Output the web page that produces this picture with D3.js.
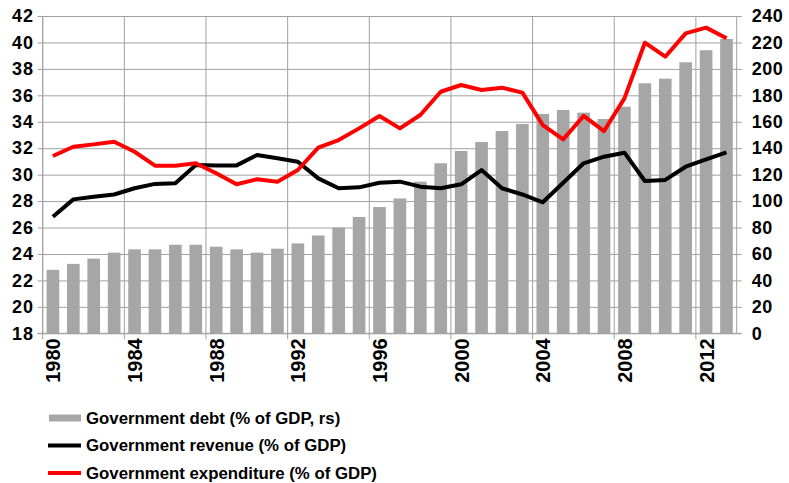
<!DOCTYPE html>
<meta charset="utf-8">
<style>
  body { margin: 0; background: #fff; }
  #chart text { font-family: "Liberation Sans", Arial, sans-serif; font-weight: bold; fill: #000; }
</style>
<body>
<div id="chart"></div>
<script src="https://d3js.org/d3.v7.min.js"></script>
<script>
  // data
  const years = d3.range(1980, 2014)
  const debt = [48, 52.5, 56.5, 61, 63.5, 63.5, 67, 67, 65.5, 63.5, 61, 64, 68, 74, 80, 88, 95.5, 102,
    114.7, 128.6, 137.9, 144.7, 153, 158.3, 165.9, 168.9, 166.9, 162.1, 171.4, 189.1, 192.6, 205, 214.1, 222.6]
  const revenue = [26.82, 28.13, 28.33, 28.5, 28.97, 29.3, 29.35, 30.73, 30.7, 30.7, 31.49, 31.24, 30.98, 29.72,
    28.97, 29.04, 29.39, 29.47, 29.09, 28.97, 29.27, 30.35, 28.97, 28.5, 27.91, 29.39, 30.86, 31.36, 31.66,
    29.52, 29.6, 30.6, 31.16, 31.69]
  const expenditure = [31.41, 32.11, 32.29, 32.49, 31.73, 30.68, 30.68, 30.86, 30.1, 29.27, 29.65, 29.47, 30.35,
    32.04, 32.62, 33.5, 34.44, 33.5, 34.51, 36.27, 36.78, 36.4, 36.58, 36.2, 33.75, 32.67, 34.44, 33.3, 35.77,
    39.98, 38.92, 40.69, 41.12, 40.31]
  const leftTicks = d3.range(18, 43, 2)
  const rightTicks = d3.range(0, 241, 20)
  const yearLabels = [1980, 1984, 1988, 1992, 1996, 2000, 2004, 2008, 2012]
  const legendItems = [
    { name: "Government debt (% of GDP, rs)", type: "bar", color: "#a6a6a6" },
    { name: "Government revenue (% of GDP)", type: "line", color: "#000000" },
    { name: "Government expenditure (% of GDP)", type: "line", color: "#ff0000" }
  ]

  const W = 789, H = 483
  const plot = { left: 42.7, right: 736.7, top: 16, bottom: 333.3 }
  const gridColor = "#a0a0a0"

  const svg = d3.select("#chart").append("svg")
    .attr("width", W).attr("height", H)

  const x = d3.scaleBand().domain(years).range([plot.left, plot.right]).padding(0)
  const xBar = d3.scaleBand().domain(years).range([plot.left, plot.right])
    .paddingInner(0.38).paddingOuter(0.19)
  const yL = d3.scaleLinear().domain([18, 42]).range([plot.bottom, plot.top])
  const yR = d3.scaleLinear().domain([0, 240]).range([plot.bottom, plot.top])

  // horizontal gridlines + left ticks
  svg.append("g")
    .attr("transform", `translate(${plot.left},0)`)
    .call(d3.axisLeft(yL).tickValues(leftTicks).tickSize(-(plot.right - plot.left)).tickSizeOuter(0).tickPadding(8))
    .call(g => g.select(".domain").remove())
    .call(g => g.selectAll("line").attr("stroke", gridColor).attr("x2", plot.right - plot.left).attr("x1", -5))
    .call(g => g.selectAll("text").attr("font-size", 18).attr("letter-spacing", 0.8).attr("dx", -1))

  // right axis labels
  svg.append("g")
    .attr("transform", `translate(${plot.right},0)`)
    .call(d3.axisRight(yR).tickValues(rightTicks).tickSize(5).tickPadding(10))
    .call(g => g.select(".domain").remove())
    .call(g => g.selectAll("line").attr("stroke", gridColor))
    .call(g => g.selectAll("text").attr("font-size", 18).attr("letter-spacing", 0.5))

  // vertical gridlines every 4 years
  const vlines = years.filter(yr => (yr - 1980) % 4 === 0)
  svg.append("g").selectAll("line")
    .data(vlines)
    .join("line")
    .attr("x1", d => x(d)).attr("x2", d => x(d))
    .attr("y1", plot.top).attr("y2", plot.bottom + 6)
    .attr("stroke", gridColor)

  // axis frame lines
  svg.append("line").attr("x1", plot.right).attr("x2", plot.right)
    .attr("y1", plot.top).attr("y2", plot.bottom).attr("stroke", gridColor)
  svg.append("line").attr("x1", plot.left).attr("x2", plot.left)
    .attr("y1", plot.top).attr("y2", plot.bottom).attr("stroke", gridColor)

  // bars
  svg.append("g").selectAll("rect")
    .data(years)
    .join("rect")
    .attr("x", d => xBar(d))
    .attr("width", xBar.bandwidth())
    .attr("y", (d, i) => yR(debt[i]))
    .attr("height", (d, i) => plot.bottom - yR(debt[i]))
    .attr("fill", "#a6a6a6")

  // bottom axis line
  svg.append("line").attr("x1", plot.left - 5).attr("x2", plot.right + 5)
    .attr("y1", plot.bottom).attr("y2", plot.bottom).attr("stroke", gridColor)

  // lines
  const cx = d => x(d) + x.bandwidth() / 2
  const lineGen = arr => d3.line().x(d => cx(d)).y((d, i) => yL(arr[i]))(years)
  svg.append("path").attr("d", lineGen(revenue))
    .attr("fill", "none").attr("stroke", "#000").attr("stroke-width", 4).attr("stroke-linejoin", "round")
  svg.append("path").attr("d", lineGen(expenditure))
    .attr("fill", "none").attr("stroke", "#ff0000").attr("stroke-width", 4).attr("stroke-linejoin", "round")

  // year labels
  svg.append("g").selectAll("text")
    .data(yearLabels)
    .join("text")
    .attr("transform", d => `translate(${cx(d) + 7.5},${plot.bottom + 5}) rotate(-90)`)
    .attr("text-anchor", "end")
    .attr("font-size", 20)
    .text(d => d)

  // legend
  const leg = svg.append("g").selectAll("g")
    .data(legendItems)
    .join("g")
    .attr("transform", (d, i) => `translate(48,${418 + i * 27.5})`)
  leg.each(function (d) {
    const g = d3.select(this)
    if (d.type === "bar") {
      g.append("rect").attr("x", 1).attr("y", -3.5).attr("width", 32).attr("height", 7).attr("fill", d.color)
    } else {
      g.append("line").attr("x1", 0).attr("x2", 33).attr("stroke", d.color).attr("stroke-width", 4)
    }
  })
  leg.append("text")
    .attr("x", 38).attr("dy", "0.35em")
    .attr("font-size", 16.8)
    .text(d => d.name)
</script>
</body>
